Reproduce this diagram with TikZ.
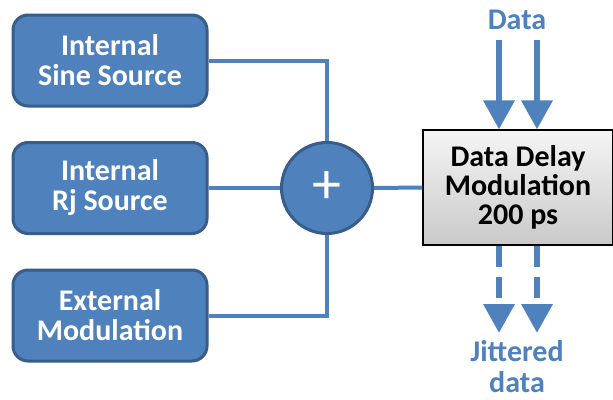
\documentclass[tikz,border=0pt]{standalone}
\usepackage{fontspec}
\setmainfont{Carlito}
\usetikzlibrary{arrows.meta,calc}
\definecolor{accblue}{HTML}{4F81BD}
\definecolor{accdark}{HTML}{385D8A}
\begin{document}
\begin{tikzpicture}[x=1pt,y=-1pt,
  srcbox/.style={draw=accdark,line width=3pt,fill=accblue,rounded corners=15pt,
    minimum width=194pt,minimum height=91pt,text=white,align=center,inner sep=0pt,
    font=\bfseries\fontsize{30}{30}\selectfont},
  wire/.style={draw=accblue,line width=4pt},
  bigarrow/.style={draw=accblue,line width=6.5pt,-{Triangle[width=30pt,length=29pt]},color=accblue},
  lbl/.style={text=accblue,align=center,font=\bfseries\fontsize{30}{31}\selectfont,inner sep=0pt}]
\useasboundingbox[fill=white] (0,0) rectangle (613,399);
\node[srcbox] (b1) at (110,60.5) {Internal\\Sine Source};
\node[srcbox] (b2) at (110,188) {Internal\\Rj Source};
\node[srcbox] (b3) at (110,315.5) {External\\Modulation};
\node[circle,draw=accdark,line width=3pt,fill=accblue,minimum size=91pt,inner sep=0pt,
  text=white,font=\fontsize{58}{58}\selectfont] (sum) at (327,188) {+};
\node[draw=black,line width=1.2pt,top color=gray!8,bottom color=gray!42,
  minimum width=190pt,minimum height=115pt,inner sep=0pt,align=center,
  font=\bfseries\fontsize{30}{29}\selectfont] (dd) at (518,187.5) {Data Delay\\Modulation\\200 ps};
\draw[wire] (b1.east) -| (sum.north);
\draw[wire] (b2.east) -- (sum.west);
\draw[wire] (b3.east) -| (sum.south);
\draw[wire] (sum.east) -- (dd.west);
\node[lbl] (din) at (517,20) {Data};
\node[lbl] (jout) at (517,367) {Jittered\\data};
\coordinate (a1) at (499,40);
\coordinate (a2) at (537,40);
\coordinate (o1) at (499,333);
\coordinate (o2) at (537,333);
\draw[bigarrow] (a1) -- (a1 |- dd.north);
\draw[bigarrow] (a2) -- (a2 |- dd.north);
\draw[bigarrow,dash pattern=on 21pt off 10pt] (o1 |- dd.south) -- (o1);
\draw[bigarrow,dash pattern=on 21pt off 10pt] (o2 |- dd.south) -- (o2);
\end{tikzpicture}
\end{document}
